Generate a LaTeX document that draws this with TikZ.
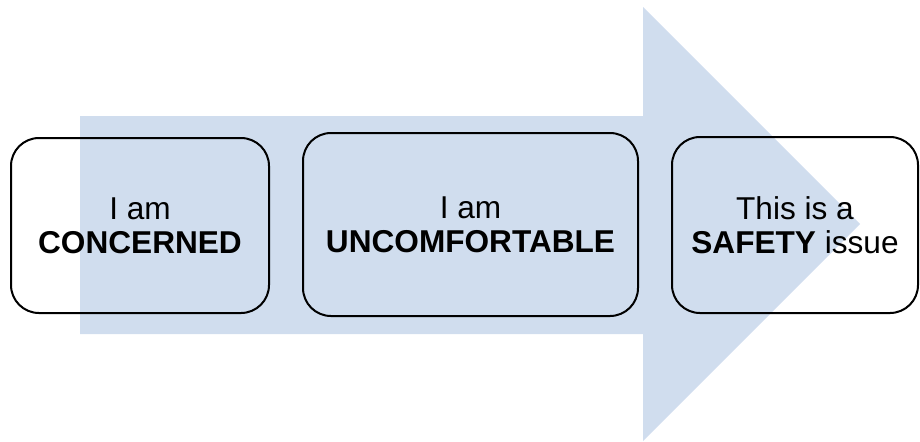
\documentclass[tikz,border=0pt]{standalone}
\usepackage{fontspec}
\setmainfont{Liberation Sans}
\usepackage{xcolor}
\definecolor{azulSeta}{RGB}{208,221,238}
\usepackage{tikz}
\usetikzlibrary{calc}

\begin{document}
\begin{tikzpicture}[x=0.5pt,y=-0.5pt,
  caixa/.style={draw=black, line width=1pt, rounded corners=14pt,
    align=center, inner sep=0pt, font=\fontsize{15.8}{17}\selectfont}]
        \useasboundingbox (0,0) rectangle (920,441);
        % seta de fundo
        \fill[azulSeta] (80,116) -- (643,116) -- (643,7) -- (860,224)
          -- (643,441) -- (643,334) -- (80,334) -- cycle;
        \foreach \i/\cx/\cy/\w/\h/\txt in {
          1/140/225.5/129/87.5/{I am\\\textbf{CONCERNED}},
          2/470.5/224.5/167.5/91.5/{I am\\\textbf{UNCOMFORTABLE}},
          3/795/225/123/88/{This is a\\\textbf{SAFETY} issue}%
        }{
          \node[caixa, minimum width=\w pt, minimum height=\h pt]
          (caixa\i) at (\cx,\cy) {\txt};
        }
      \end{tikzpicture}
\end{document}
